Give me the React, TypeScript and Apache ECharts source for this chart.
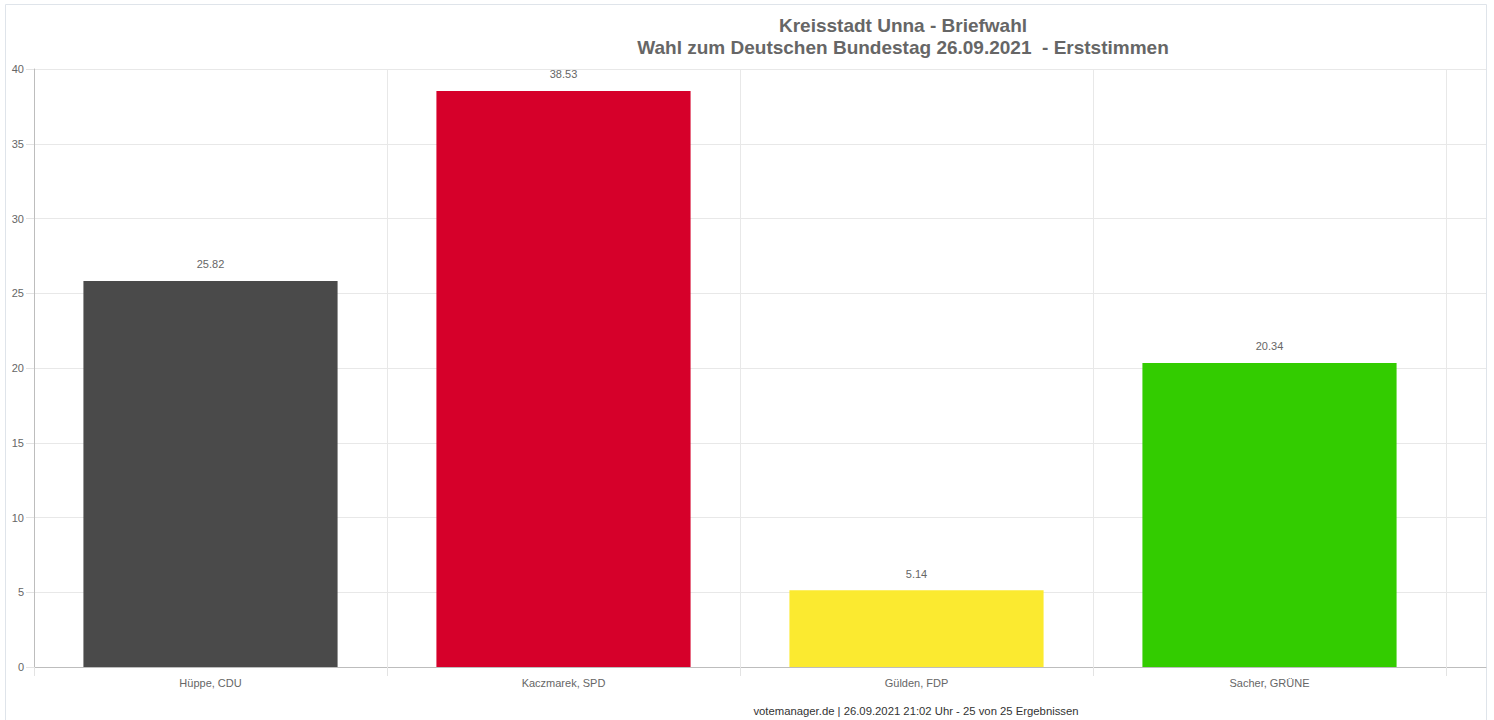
import React, { useEffect, useRef } from "react";
import * as echarts from "echarts";

const categories = ["Hüppe, CDU", "Kaczmarek, SPD", "Gülden, FDP", "Sacher, GRÜNE"];
const values = [25.82, 38.53, 5.14, 20.34];
const barColors = ["#4a4a4a", "#d6002a", "#fbea30", "#33cc00"];
const titleLines = ["Kreisstadt Unna - Briefwahl", "Wahl zum Deutschen Bundestag 26.09.2021  - Erststimmen"];
const footerText = "votemanager.de | 26.09.2021 21:02 Uhr - 25 von 25 Ergebnissen";
const yMin = 0;
const yMax = 40;
const yStep = 5;

const FONT = "'Liberation Sans', Arial, Helvetica, sans-serif";

export default function App() {
  const ref = useRef<HTMLDivElement>(null);
  useEffect(() => {
    if (!ref.current) return;
    const chart = echarts.init(ref.current, undefined, { renderer: "svg" });
    chart.setOption({
      animation: false,
      backgroundColor: "#ffffff",
      textStyle: { fontFamily: FONT },
      grid: [
        { left: 34, top: 69, width: 1452, height: 598 },
        { left: 34, top: 69, width: 1412, height: 598 },
      ],
      xAxis: [
        {
          type: "value",
          gridIndex: 0,
          min: 0,
          max: 1,
          axisLine: { show: true, lineStyle: { color: "#bdbdbd", width: 1 } },
          axisTick: { show: false },
          axisLabel: { show: false },
          splitLine: { show: false },
        },
        {
          type: "category",
          gridIndex: 1,
          data: categories,
          axisLine: { show: false },
          axisTick: { show: true, length: 9, interval: 0, lineStyle: { color: "#e3e3e3" } },
          axisLabel: { show: true, color: "#666", fontSize: 11, margin: 10, fontFamily: FONT },
          splitLine: { show: true, interval: 0, lineStyle: { color: "#e8e8e8" } },
        },
      ],
      yAxis: [
        {
          type: "value",
          gridIndex: 0,
          min: yMin,
          max: yMax,
          interval: yStep,
          axisLine: { show: true, lineStyle: { color: "#bdbdbd", width: 1 } },
          axisTick: { show: true, length: 8, lineStyle: { color: "#e3e3e3" } },
          axisLabel: { color: "#666", fontSize: 11, margin: 10, fontFamily: FONT },
          splitLine: { show: true, lineStyle: { color: "#e8e8e8" } },
        },
        {
          type: "value",
          gridIndex: 1,
          min: yMin,
          max: yMax,
          interval: yStep,
          show: false,
          splitLine: { show: false },
        },
      ],
      series: [
        {
          type: "bar",
          xAxisIndex: 1,
          yAxisIndex: 1,
          barWidth: "72%",
          data: values.map((v, i) => ({ value: v, itemStyle: { color: barColors[i] } })),
          label: {
            show: true,
            position: "top",
            distance: 11,
            color: "#666",
            fontSize: 11,
            fontFamily: FONT,
            formatter: (p: any) => p.value.toFixed(2),
          },
        },
      ],
      graphic: [
        {
          type: "rect",
          silent: true,
          shape: { x: 5.5, y: 4.5, width: 1481, height: 740 },
          style: { fill: "none", stroke: "#dfe4ea", lineWidth: 1 },
        },
        {
          type: "text",
          x: 903,
          y: 25,
          style: {
            text: titleLines[0],
            font: `bold 19px ${FONT}`,
            fill: "#666",
            textAlign: "center",
            textVerticalAlign: "middle",
          },
        },
        {
          type: "text",
          x: 903,
          y: 47,
          style: {
            text: titleLines[1],
            font: `bold 19px ${FONT}`,
            fill: "#666",
            textAlign: "center",
            textVerticalAlign: "middle",
          },
        },
        {
          type: "text",
          x: 916,
          y: 711,
          style: {
            text: footerText,
            font: `11.3px ${FONT}`,
            fill: "#333",
            textAlign: "center",
            textVerticalAlign: "middle",
          },
        },
      ],
    });
    return () => chart.dispose();
  }, []);
  return (
    <div
      ref={ref}
      style={{ position: "fixed", left: 0, top: 0, width: 1494, height: 720 }}
    />
  );
}
